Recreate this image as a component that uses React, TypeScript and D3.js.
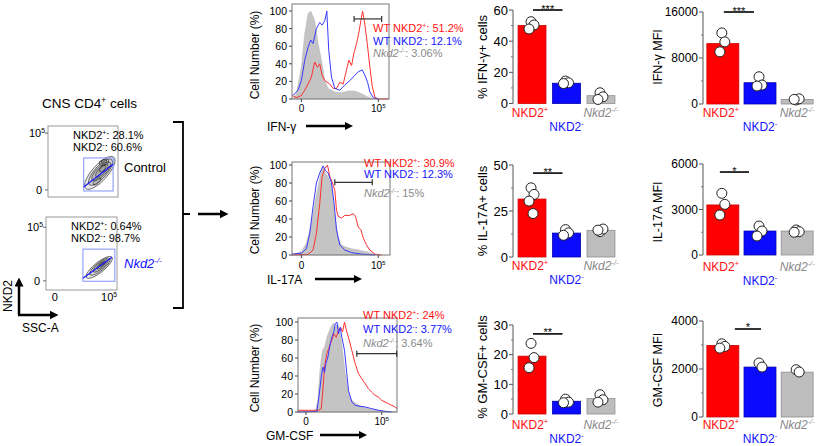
import React from 'react';
import * as d3 from 'd3';

const FONT = "'Liberation Sans', Arial, Helvetica, sans-serif";
const RED = '#ff1010';
const BLUE = '#1414ff';
const GRAY_TXT = '#8a8a8a';

// ---------- bar chart data ----------
const groups = ['NKD2+', 'NKD2-', 'Nkd2-/-'];
const ifngPctMeans = [50, 13, 5];
const ifngPctDots = [[52.5, 50.4, 47.8], [14.4, 13.3, 12.8], [6.9, 4.3, 2.6]];
const il17PctMeans = [31.5, 13, 14.5];
const il17PctDots = [[37.6, 34, 30.4, 23.6], [14.9, 13.1, 11.8], [13.8, 15.2, 14.6]];
const gmPctMeans = [19.5, 4.3, 5.2];
const gmPctDots = [[23.8, 19, 15.6], [5, 4, 3.8], [6.5, 4.8, 4]];
const ifngMfiMeans = [10500, 3700, 800];
const ifngMfiDots = [[12360, 10800, 9070], [4740, 3300, 3120], [700, 900, 800]];
const il17MfiMeans = [3300, 1580, 1580];
const il17MfiDots = [[4066, 3340, 2637], [1910, 1580, 1250], [1650, 1540, 1500]];
const gmMfiMeans = [2980, 2080, 1870];
const gmMfiDots = [[3050, 2940, 2870], [2250, 2080], [1970, 1875]];

// ---------- histogram data: [relative position 0-100, % of max] ----------
const ifnGray = [[1,0],[4.5,6],[9.7,36],[13.1,74],[16.6,97],[19.3,100],[23.4,89],[26.9,63],[30.3,44],[33.8,21],[37.2,12],[44.1,8],[51,7],[57.9,9],[64.8,9],[71.7,6],[78.6,2],[85.5,0]];
const ifnBlue = [[1,4],[6.2,10],[9.7,21],[13.1,44],[16.6,59],[19.3,67],[21.7,63],[25.2,80],[28.6,87],[31,84],[33.8,89],[35.9,100],[37.9,55],[40.7,25],[44.1,12],[49.3,10],[54.5,16],[59.7,21],[64.8,27],[68.3,31],[72.4,33],[75.2,27],[77.9,19],[80.3,8],[83.8,1.5],[89,0]];
const ifnRed = [[0,4],[4.5,1.5],[9.7,4],[13.1,10],[16.6,17],[20,25],[23.4,42],[26.2,36],[28.6,40],[31,27],[33.8,21],[39,17],[42.4,12],[45.9,12],[49.3,19],[52.8,17],[56.2,33],[58.6,44],[61.4,38],[63.8,52],[66.6,63],[69,76],[71,89],[72.8,100],[75.2,84],[77.6,63],[80.3,36],[82.8,14],[85.5,2],[89,0],[99.3,0]];
const il17Gray = [[2.7,1],[9.6,4],[14.7,13],[19.8,35],[23.2,57],[26.6,76],[29.4,91],[31.7,98],[34.1,91],[36.9,87],[40.3,76],[43.7,43],[47.1,20],[50.5,11],[55.6,8.5],[60.8,7],[67.6,5.5],[74.4,4],[81.2,2],[86.3,0]];
const il17Blue = [[0,1],[9.6,2],[14.7,7],[18.1,24],[21.5,54],[24.9,80],[28.3,91],[31.7,99],[34.1,94],[36.9,91],[40.3,80],[43,57],[45.4,28],[48.8,11],[53.9,5.5],[60.8,2.6],[71,1],[84.6,0]];
const il17Red = [[0,0],[16.4,0.7],[21.5,5.5],[24.9,24],[28.3,57],[30.7,87],[33.4,96],[36.2,100],[38.6,87],[41,81],[43.7,72],[45.4,50],[47.1,43],[50.5,41],[53.9,44],[59,44],[62.5,46],[64.8,43],[67.6,31],[70.3,28],[72.7,19],[76.1,11],[79.5,5.5],[84.6,1],[91.5,0]];
const gmGray = [[0,0],[17.4,0.7],[20.1,13],[22.5,50],[24.8,68.5],[26.8,72],[29.2,83],[32.6,93],[35.9,99],[37.6,94],[40.3,98],[42.6,87],[45,68.5],[47.7,42.6],[51,20],[54.4,13],[59.4,9],[64.4,6],[71.1,3.7],[81.2,1.9],[91.3,0.7],[99.7,0]];
const gmBlue = [[0,0],[19.1,0.7],[21.5,20],[23.5,39],[25.2,50],[26.8,44],[28.2,54],[30.2,61],[32.6,76],[34.2,83],[36.2,89],[37.6,98],[39.3,100],[40.9,87],[42.6,94],[44.3,83],[47,68.5],[49.3,42.6],[51,24],[54.4,11],[57.7,7.4],[62.8,6.3],[67.8,5.6],[74.5,3.7],[81.2,1.9],[87.9,0.7],[94.6,0]];
const gmRed = [[0,1.9],[20.8,1.9],[23.5,3.7],[24.8,20],[26.8,50],[29.2,65],[31.5,72],[34.2,80],[36.2,87],[38.6,83],[40.9,91],[43,94],[45,89],[47,100],[49.3,89],[51.7,80],[54.4,68.5],[57.7,54],[61.1,42.6],[64.4,37],[67.8,31.5],[71.1,26],[74.5,22],[77.9,18.5],[81.2,16.7],[84.6,13],[87.9,11],[91.3,9.3],[94.6,7.4],[98,5.6],[100,3.7]];
const histYTicks = [0, 20, 40, 60, 80, 100];
const ifnLegend = ['51.2%', '12.1%', '3.06%'];
const il17Legend = ['30.9%', '12.3%', '15%'];
const gmLegend = ['24%', '3.77%', '3.64%'];

// ---------- flow plot data ----------
const controlPct = ['28.1%', '60.6%'];
const koPct = ['0.64%', '98.7%'];
// contour rings: [cx, cy, rx, ry, angle] in plot units (0-100)
const controlRings = [[74,34,30,11,-48],[75,35,24,8.5,-48],[76,36,18,6.5,-45],[77,37,12,4.5,-45],[78,40,6,3,-45],[80,49,7,4,-20],[80,50,4,2.2,-20],[70,22,7,3,-40]];
const koRings = [[75,31,23,7,-39],[76,32,18,5.5,-39],[77,33,13,4,-39],[78,34,8,2.5,-39],[79,35,4,1.5,-39]];

type Part = { t: string; sup?: boolean; it?: boolean; fill?: string };

function Rich(props: { x: number; y: number; parts: Part[]; size: number; fill?: string; anchor?: string; rotate?: number; weight?: string }) {
  const { x, y, parts, size, fill = '#000', anchor = 'start', rotate, weight } = props;
  let shift = 0;
  const kids = parts.map((p, i) => {
    const target = p.sup ? -size * 0.4 : 0;
    const dy = target - shift;
    shift = target;
    return (
      <tspan key={i} dy={dy} fontSize={p.sup ? size * 0.62 : size} fontStyle={p.it ? 'italic' : 'normal'} fill={p.fill || fill}>
        {p.t}
      </tspan>
    );
  });
  return (
    <text x={x} y={y} fontSize={size} fill={fill} textAnchor={anchor} fontFamily={FONT} fontWeight={weight}
      transform={rotate ? `rotate(${rotate},${x},${y})` : undefined}>
      {kids}
    </text>
  );
}

function GroupLabels({ x, yTop }: { x: d3.ScaleBand<string>; yTop: number }) {
  const cx = (g: string) => (x(g) as number) + x.bandwidth() / 2;
  return (
    <g>
      <Rich x={cx(groups[0]) - 2} y={yTop} size={12} anchor="middle" parts={[{ t: 'NKD2', fill: RED }, { t: '+', sup: true, fill: RED }]} />
      <Rich x={cx(groups[1])} y={yTop + 14} size={12} anchor="middle" parts={[{ t: 'NKD2', fill: BLUE }, { t: '-', sup: true, fill: BLUE }]} />
      <Rich x={cx(groups[2])} y={yTop} size={12} anchor="middle" parts={[{ t: 'Nkd2', it: true, fill: GRAY_TXT }, { t: '-/-', sup: true, it: true, fill: GRAY_TXT }]} />
    </g>
  );
}

const jitter = [-1, 2, -3, 1];

function BarPanel(props: {
  axisX: number; x0: number; x1: number; yBottom: number; yTop: number; max: number; tickSize: number;
  ticks: number[]; minor: number[]; means: number[]; dots: number[][]; label: string; labelX: number; labelSize: number;
  labelCY: number; sig: string; sigVal: number; sigX0: number; sigX1: number; pi: number; po: number; lblY: number;
}) {
  const p = props;
  const x = d3.scaleBand<string>().domain(groups).range([p.x0, p.x1]).paddingInner(p.pi).paddingOuter(p.po);
  const y = d3.scaleLinear().domain([0, p.max]).range([p.yBottom, p.yTop]);
  const fills = ['#ff0000', '#0a0aff', '#bdbdbd'];
  const strokes = ['#d00000', '#0000b0', '#8e8e8e'];
  const cx = (i: number) => (x(groups[i]) as number) + x.bandwidth() / 2;
  const sy = y(p.sigVal);
  return (
    <g>
      <line x1={p.axisX} x2={p.axisX} y1={y(0)} y2={y(p.max)} stroke="#555" strokeWidth={1} />
      {p.ticks.map(t => (
        <g key={'t' + t}>
          <line x1={p.axisX - 4} x2={p.axisX} y1={y(t)} y2={y(t)} stroke="#555" />
          <text x={p.axisX - 5} y={y(t) + p.tickSize * 0.36} textAnchor="end" fontSize={p.tickSize} fontFamily={FONT}>{String(t)}</text>
        </g>
      ))}
      {p.minor.map(t => (
        <line key={'m' + t} x1={p.axisX - 2} x2={p.axisX} y1={y(t)} y2={y(t)} stroke="#777" />
      ))}
      {p.means.map((m, i) => (
        <rect key={'b' + i} x={x(groups[i])} y={y(m)} width={x.bandwidth()} height={y(0) - y(m)} fill={fills[i]} stroke={strokes[i]} strokeWidth={0.8} />
      ))}
      {p.dots.map((arr, i) =>
        arr.map((v, j) => (
          <circle key={`d${i}-${j}`} cx={cx(i) + jitter[j % jitter.length]} cy={y(v)} r={5} fill="#fff" stroke="#222" strokeWidth={1} />
        ))
      )}
      <line x1={cx(0) + p.sigX0} x2={cx(1) + p.sigX1} y1={sy} y2={sy} stroke="#000" strokeWidth={1.6} />
      <text x={(cx(0) + p.sigX0 + cx(1) + p.sigX1) / 2} y={sy + 2.5} textAnchor="middle" fontSize={11} fontFamily={FONT}>{p.sig}</text>
      <text x={p.labelX} y={p.labelCY} textAnchor="middle" fontSize={p.labelSize} fontFamily={FONT} transform={`rotate(-90,${p.labelX},${p.labelCY})`}>{p.label}</text>
      <GroupLabels x={x} yTop={p.lblY} />
    </g>
  );
}

function HistPanel(props: {
  bx0: number; bx1: number; top: number; y0: number; y100: number; gray: number[][]; blue: number[][]; red: number[][];
  t0: number; t5: number; tickY: number; xlabel: string; xlX: number; xlY: number; arrow0: number; arrow1: number;
  legX: number; legY: number[]; leg: string[]; gate: number[]; ylabCY: number;
}) {
  const p = props;
  const x = d3.scaleLinear().domain([0, 100]).range([p.bx0, p.bx1]);
  const y = d3.scaleLinear().domain([0, 100]).range([p.y0, p.y100]);
  const area = d3.area<number[]>().x(d => x(d[0])).y0(y(0)).y1(d => y(d[1]));
  const line = d3.line<number[]>().x(d => x(d[0])).y(d => y(d[1]));
  const gy = y(p.gate[2]);
  return (
    <g>
      <path d={area(p.gray) || ''} fill="#c4c4c4" stroke="#b0b0b0" strokeWidth={0.5} />
      <path d={line(p.red) || ''} fill="none" stroke="#ff3030" strokeWidth={1} />
      <path d={line(p.blue) || ''} fill="none" stroke="#3a3aff" strokeWidth={1} />
      <rect x={p.bx0} y={p.top} width={p.bx1 - p.bx0} height={p.y0 - p.top} fill="none" stroke="#777" strokeWidth={1} />
      {histYTicks.map(t => (
        <g key={t}>
          <line x1={p.bx0 - 3} x2={p.bx0} y1={y(t)} y2={y(t)} stroke="#444" />
          <text x={p.bx0 - 5} y={y(t) + 4} textAnchor="end" fontSize={10.5} fontFamily={FONT}>{t}</text>
        </g>
      ))}
      <line x1={x(p.t0)} x2={x(p.t0)} y1={p.y0} y2={p.y0 + 3} stroke="#444" />
      <line x1={x(p.t5)} x2={x(p.t5)} y1={p.y0} y2={p.y0 + 3} stroke="#444" />
      <text x={x(p.t0)} y={p.tickY} textAnchor="middle" fontSize={10} fontFamily={FONT}>0</text>
      <Rich x={x(p.t5)} y={p.tickY} size={10} anchor="middle" parts={[{ t: '10' }, { t: '5', sup: true }]} />
      <text x={p.xlX} y={p.xlY + 4.5} fontSize={12} fontFamily={FONT}>{p.xlabel}</text>
      <line x1={p.arrow0} x2={p.arrow1 - 4} y1={p.xlY} y2={p.xlY} stroke="#000" strokeWidth={2.5} markerEnd="url(#ah)" />
      <text x={259} y={p.ylabCY} textAnchor="middle" fontSize={12} fontFamily={FONT} transform={`rotate(-90,259,${p.ylabCY})`}>Cell Number (%)</text>
      <line x1={x(p.gate[0])} x2={x(p.gate[1])} y1={gy} y2={gy} stroke="#333" strokeWidth={1.2} />
      <line x1={x(p.gate[0])} x2={x(p.gate[0])} y1={gy - 3} y2={gy + 3} stroke="#333" strokeWidth={1.2} />
      <line x1={x(p.gate[1])} x2={x(p.gate[1])} y1={gy - 3} y2={gy + 3} stroke="#333" strokeWidth={1.2} />
      <Rich x={p.legX} y={p.legY[0]} size={11} parts={[{ t: 'WT NKD2', fill: RED }, { t: '+', sup: true, fill: RED }, { t: ': ' + p.leg[0], fill: RED }]} />
      <Rich x={p.legX} y={p.legY[1]} size={11} parts={[{ t: 'WT NKD2', fill: BLUE }, { t: '-', sup: true, fill: BLUE }, { t: ': ' + p.leg[1], fill: BLUE }]} />
      <Rich x={p.legX} y={p.legY[2]} size={11} parts={[{ t: 'Nkd2', it: true, fill: GRAY_TXT }, { t: '-/-', sup: true, it: true, fill: GRAY_TXT }, { t: ': ' + p.leg[2], fill: GRAY_TXT }]} />
    </g>
  );
}

function FlowPanel(props: {
  bx0: number; bx1: number; by0: number; by1: number; rings: number[][]; pct: string[]; txtX: number; txtY: number;
  gate: number[]; diag: number[]; xTicks: boolean; tick0: number; tick5: number;
}) {
  const p = props;
  const x = d3.scaleLinear().domain([0, 100]).range([p.bx0, p.bx1]);
  const y = d3.scaleLinear().domain([0, 100]).range([p.by1, p.by0]);
  const sx = (p.bx1 - p.bx0) / 100;
  const sy = (p.by1 - p.by0) / 100;
  return (
    <g>
      <rect x={p.bx0} y={p.by0} width={p.bx1 - p.bx0} height={p.by1 - p.by0} fill="#fff" stroke="#9a9a9a" strokeWidth={1} />
      {p.rings.map((r, i) => (
        <ellipse key={i} cx={x(r[0])} cy={y(r[1])} rx={r[2] * sx} ry={r[3] * sy}
          transform={`rotate(${r[4]},${x(r[0])},${y(r[1])})`} fill="rgba(0,0,0,0.09)" stroke="#222" strokeWidth={0.6} />
      ))}
      <rect x={x(p.gate[0])} y={y(p.gate[3])} width={x(p.gate[1]) - x(p.gate[0])} height={y(p.gate[2]) - y(p.gate[3])} fill="none" stroke="#7f8fff" strokeWidth={1} />
      <line x1={x(p.diag[0])} y1={y(p.diag[1])} x2={x(p.diag[2])} y2={y(p.diag[3])} stroke={BLUE} strokeWidth={1.2} />
      <line x1={p.bx0 - 3} x2={p.bx0} y1={y(p.tick5)} y2={y(p.tick5)} stroke="#666" />
      <line x1={p.bx0 - 3} x2={p.bx0} y1={y(p.tick0)} y2={y(p.tick0)} stroke="#666" />
      <Rich x={p.bx0 - 3} y={y(p.tick5) + 4} size={11} anchor="end" parts={[{ t: '10' }, { t: '5', sup: true }]} />
      <text x={p.bx0 - 6} y={y(p.tick0) + 4} fontSize={11} textAnchor="end" fontFamily={FONT}>0</text>
      {p.xTicks && (
        <g>
          <text x={x(p.tick0)} y={p.by1 + 11} fontSize={11} textAnchor="middle" fontFamily={FONT}>0</text>
          <Rich x={x(p.tick5) + 2} y={p.by1 + 11} size={11} anchor="middle" parts={[{ t: '10' }, { t: '5', sup: true }]} />
        </g>
      )}
      <Rich x={p.txtX} y={p.txtY} size={11} parts={[{ t: 'NKD2' }, { t: '+', sup: true }, { t: ': ' + p.pct[0] }]} />
      <Rich x={p.txtX} y={p.txtY + 12} size={11} parts={[{ t: 'NKD2' }, { t: '-', sup: true }, { t: ': ' + p.pct[1] }]} />
    </g>
  );
}

export default function App() {
  return (
    <svg width={825} height={446} viewBox="0 0 825 446" style={{ position: 'absolute', left: 0, top: 0, background: '#fff' }}>
      <defs>
        <marker id="ah" viewBox="0 0 10 10" refX={5} refY={5} markerWidth={8} markerHeight={8} markerUnits="userSpaceOnUse" orient="auto">
          <path d="M0,0 L10,5 L0,10 z" fill="#000" />
        </marker>
        <marker id="ah2" viewBox="0 0 10 10" refX={5} refY={5} markerWidth={9} markerHeight={9} markerUnits="userSpaceOnUse" orient="auto">
          <path d="M0,0 L10,5 L0,10 z" fill="#000" />
        </marker>
      </defs>
      <rect x={0} y={0} width={825} height={446} fill="#fff" />

      {/* left flow panels */}
      <Rich x={42} y={108} size={13.5} parts={[{ t: 'CNS CD4' }, { t: '+', sup: true }, { t: ' cells' }]} />
      <FlowPanel bx0={48} bx1={118} by0={126} by1={197} rings={controlRings} pct={controlPct} txtX={73} txtY={139}
        gate={[51, 93, 8.5, 55]} diag={[51, 14, 93, 46]} xTicks={false} tick0={10} tick5={90} />
      <text x={124} y={172} fontSize={13} fontFamily={FONT}>Control</text>
      <FlowPanel bx0={46} bx1={117} by0={217} by1={290} rings={koRings} pct={koPct} txtX={71} txtY={230}
        gate={[52, 97, 12, 56]} diag={[52, 16, 93, 45]} xTicks={true} tick0={12.5} tick5={86} />
      <Rich x={124} y={268} size={13} parts={[{ t: 'Nkd2', it: true, fill: BLUE }, { t: '-/-', sup: true, it: true, fill: BLUE }]} />

      {/* NKD2 / SSC-A axes arrows */}
      <line x1={19} y1={315} x2={19} y2={282} stroke="#000" strokeWidth={2.5} markerEnd="url(#ah2)" />
      <line x1={18} y1={315} x2={54} y2={315} stroke="#000" strokeWidth={2.5} markerEnd="url(#ah2)" />
      <text x={12} y={296} fontSize={12} textAnchor="middle" fontFamily={FONT} transform="rotate(-90,12,296)">NKD2</text>
      <text x={22} y={332} fontSize={12} fontFamily={FONT}>SSC-A</text>

      {/* bracket and arrow */}
      <path d="M173,122 H183 V308 H173 M183,214 H190" fill="none" stroke="#000" strokeWidth={1.8} />
      <line x1={198} y1={214} x2={224} y2={214} stroke="#000" strokeWidth={2.5} markerEnd="url(#ah2)" />

      {/* histograms */}
      <HistPanel bx0={292} bx1={389} top={4} y0={99} y100={11} gray={ifnGray} blue={ifnBlue} red={ifnRed}
        t0={9.7} t5={89} tickY={111.5} xlabel="IFN-γ" xlX={267} xlY={126} arrow0={306} arrow1={353}
        legX={373} leg={ifnLegend} gate={[64, 92.4, 91]} ylabCY={55} legY={[32, 45, 57]} />
      <HistPanel bx0={292} bx1={390} top={162} y0={255} y100={165} gray={il17Gray} blue={il17Blue} red={il17Red}
        t0={9.6} t5={88} tickY={268.5} xlabel="IL-17A" xlX={267} xlY={279} arrow0={315} arrow1={362}
        legX={364} leg={il17Legend} gate={[43.7, 81.9, 80.7]} ylabCY={210} legY={[167, 178, 197]} />
      <HistPanel bx0={298} bx1={397} top={318} y0={412} y100={322} gray={gmGray} blue={gmBlue} red={gmRed}
        t0={8} t5={84.6} tickY={424.5} xlabel="GM-CSF" xlX={266} xlY={435} arrow0={320} arrow1={367}
        legX={363} leg={gmLegend} gate={[59.4, 99.7, 64.8]} ylabCY={368} legY={[319, 333, 347]} />

      {/* percentage bar charts */}
      <BarPanel axisX={513} x0={516} x1={617} pi={0.19} po={0.06} yBottom={103.5} yTop={10} max={60} tickSize={13}
        ticks={[0, 20, 40, 60]} minor={[10, 30, 50]} means={ifngPctMeans} dots={ifngPctDots} labelSize={13}
        label="% IFN-γ+ cells" labelX={486.5} labelCY={57} sig="***" sigVal={60} sigX0={1} sigX1={-4} lblY={117} />
      <BarPanel axisX={513} x0={516} x1={617} pi={0.19} po={0.06} yBottom={257} yTop={165} max={50} tickSize={13}
        ticks={[0, 25, 50]} minor={[12.5, 37.5]} means={il17PctMeans} dots={il17PctDots} labelSize={13}
        label="% IL-17A+ cells" labelX={486.5} labelCY={211} sig="**" sigVal={45.6} sigX0={1} sigX1={-4} lblY={270} />
      <BarPanel axisX={513} x0={516} x1={617} pi={0.19} po={0.06} yBottom={414} yTop={325} max={30} tickSize={13}
        ticks={[0, 10, 20, 30]} minor={[5, 15, 25]} means={gmPctMeans} dots={gmPctDots} labelSize={13}
        label="% GM-CSF+ cells" labelX={486.5} labelCY={367} sig="**" sigVal={27} sigX0={1} sigX1={-4} lblY={429} />

      {/* MFI bar charts */}
      <BarPanel axisX={703} x0={705} x1={815} pi={0.14} po={0.05} yBottom={104} yTop={12} max={16000} tickSize={12}
        ticks={[0, 8000, 16000]} minor={[4000, 12000]} means={ifngMfiMeans} dots={ifngMfiDots} labelSize={12.5}
        label="IFN-γ MFI" labelX={662} labelCY={57} sig="***" sigVal={16000} sigX0={1} sigX1={-6} lblY={117} />
      <BarPanel axisX={703} x0={705} x1={815} pi={0.14} po={0.05} yBottom={255} yTop={164} max={6000} tickSize={12}
        ticks={[0, 3000, 6000]} minor={[1500, 4500]} means={il17MfiMeans} dots={il17MfiDots} labelSize={12.5}
        label="IL-17A MFI" labelX={662} labelCY={212} sig="*" sigVal={5470} sigX0={-3} sigX1={-11} lblY={271} />
      <BarPanel axisX={703} x0={705} x1={815} pi={0.14} po={0.05} yBottom={417} yTop={321} max={4000} tickSize={12}
        ticks={[0, 2000, 4000]} minor={[1000, 3000]} means={gmMfiMeans} dots={gmMfiDots} labelSize={12.5}
        label="GM-CSF MFI" labelX={662} labelCY={370} sig="*" sigVal={3667} sigX0={12} sigX1={1} lblY={429} />
    </svg>
  );
}
